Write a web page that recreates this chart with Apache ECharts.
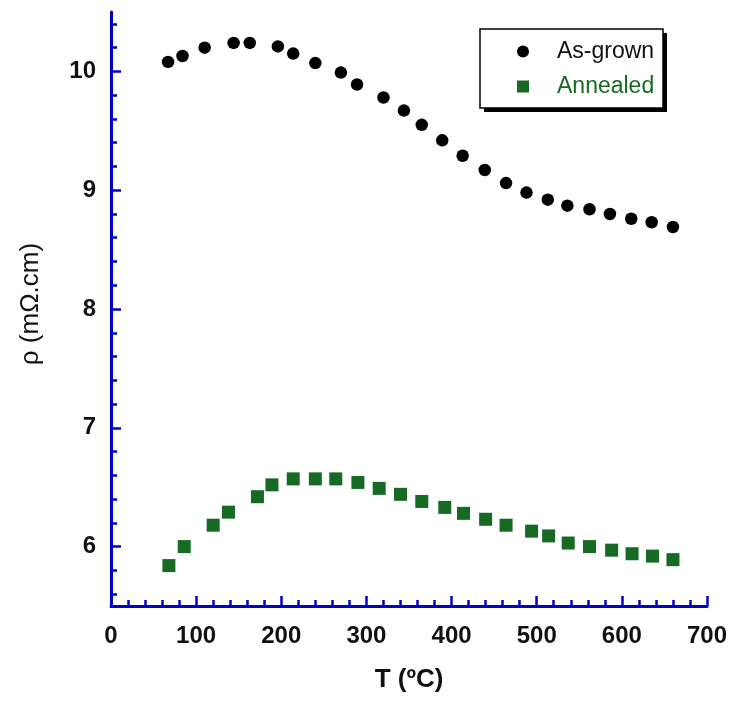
<!DOCTYPE html>
<html>
<head>
<meta charset="utf-8">
<script src="https://cdn.jsdelivr.net/npm/echarts@6/dist/echarts.min.js"></script>
<style>
  html, body { margin: 0; padding: 0; background: #fff; }
  #chart { width: 737px; height: 707px; }
</style>
</head>
<body>
<div id="chart"></div>
<script>
// values
const asGrownT = [67, 84, 110, 144, 163, 196, 214, 240, 270, 289, 320, 344, 365, 389, 413, 439, 464, 488, 513, 536, 562, 586, 611, 635, 660];
const asGrownRho = [10.08, 10.13, 10.20, 10.24, 10.24, 10.21, 10.15, 10.07, 9.99, 9.89, 9.78, 9.67, 9.55, 9.42, 9.29, 9.17, 9.06, 8.98, 8.92, 8.87, 8.84, 8.80, 8.76, 8.73, 8.69];

const annealedT = [68, 86, 120, 138, 172, 189, 214, 240, 264, 290, 315, 340, 365, 392, 414, 440, 464, 494, 514, 537, 562, 588, 612, 636, 660];
const annealedRho = [5.84, 6.00, 6.18, 6.29, 6.42, 6.52, 6.57, 6.57, 6.57, 6.54, 6.49, 6.44, 6.38, 6.33, 6.28, 6.23, 6.18, 6.13, 6.09, 6.03, 6.00, 5.97, 5.94, 5.92, 5.89];

const yMajorTicks = [6, 7, 8, 9, 10];
const yMinorTicks = [5.6, 5.8, 6.2, 6.4, 6.6, 6.8, 7.2, 7.4, 7.6, 7.8, 8.2, 8.4, 8.6, 8.8, 9.2, 9.4, 9.6, 9.8, 10.2, 10.4];

const BLUE = "#0000c8";
const GREEN = "#166a24";
const FONT = "Arial, 'Liberation Sans', sans-serif";

const pairs = (xs, ys) => xs.map((x, i) => [x, ys[i]]);

let myChart = echarts.init(document.getElementById("chart"), null, { renderer: "canvas" });

// legend frame with a solid drop shadow
const box = { x: 480, y: 29, width: 183, height: 79 };

let option = {
  backgroundColor: "#fff",
  animation: false,
  grid: { left: 111, right: 30, top: 12, bottom: 101 },
  graphic: [
    {
      type: "rect",
      z: 3,
      shape: { x: box.x + 4, y: box.y + 4, width: box.width, height: box.height },
      style: { fill: "#000" },
    },
    {
      type: "rect",
      z: 3,
      shape: box,
      style: { fill: "#fff", stroke: "#000", lineWidth: 1.5 },
    },
  ],
  legend: {
    orient: "vertical",
    left: 480,
    top: 29,
    padding: [11, 10, 12, 37],
    itemGap: 12,
    itemWidth: 12,
    itemHeight: 12,
    textStyle: { fontFamily: FONT, fontSize: 23, padding: [0, 0, 0, 23] },
    data: [
      { name: "As-grown", textStyle: { color: "#111" } },
      { name: "Annealed", textStyle: { color: GREEN } },
    ],
  },
  xAxis: {
    type: "value",
    min: 0,
    max: 700,
    interval: 100,
    name: "T (ºC)",
    nameLocation: "middle",
    nameGap: 61,
    nameTextStyle: { fontFamily: FONT, fontSize: 26, fontWeight: "bold", color: "#111" },
    axisLine: { lineStyle: { color: BLUE, width: 3 } },
    axisTick: { inside: true, length: 10, lineStyle: { color: BLUE, width: 2.5 } },
    minorTick: { show: true, splitNumber: 5, length: 6, lineStyle: { color: BLUE, width: 2.5 } },
    splitLine: { show: false },
    axisLabel: { fontFamily: FONT, fontSize: 24, fontWeight: "bold", color: "#111", margin: 18 },
  },
  yAxis: [
    {
      type: "value",
      min: 5.5,
      max: 10.5,
      position: "left",
      name: "ρ (mΩ.cm)",
      nameLocation: "middle",
      nameGap: 67,
      nameTextStyle: { fontFamily: FONT, fontSize: 26, color: "#111", padding: [0, 0, 0, 10] },
      axisLine: { onZero: false, lineStyle: { color: BLUE, width: 3 } },
      axisTick: { inside: true, length: 10, customValues: yMajorTicks, lineStyle: { color: BLUE, width: 2.5 } },
      splitLine: { show: false },
      axisLabel: { customValues: yMajorTicks, fontFamily: FONT, fontSize: 24, fontWeight: "bold", color: "#111", margin: 15 },
    },
    {
      // minor ticks only
      type: "value",
      min: 5.5,
      max: 10.5,
      position: "left",
      axisLine: { show: false, onZero: false },
      axisTick: { inside: true, length: 6, customValues: yMinorTicks, lineStyle: { color: BLUE, width: 2.5 } },
      splitLine: { show: false },
      axisLabel: { show: false },
    },
  ],
  series: [
    {
      name: "As-grown",
      type: "scatter",
      symbol: "circle",
      symbolSize: 12.5,
      itemStyle: { color: "#000", opacity: 1 },
      data: pairs(asGrownT, asGrownRho),
    },
    {
      name: "Annealed",
      type: "scatter",
      symbol: "rect",
      symbolSize: 13,
      itemStyle: { color: GREEN, opacity: 1 },
      data: pairs(annealedT, annealedRho),
    },
  ],
};

myChart.setOption(option);
</script>
</body>
</html>
